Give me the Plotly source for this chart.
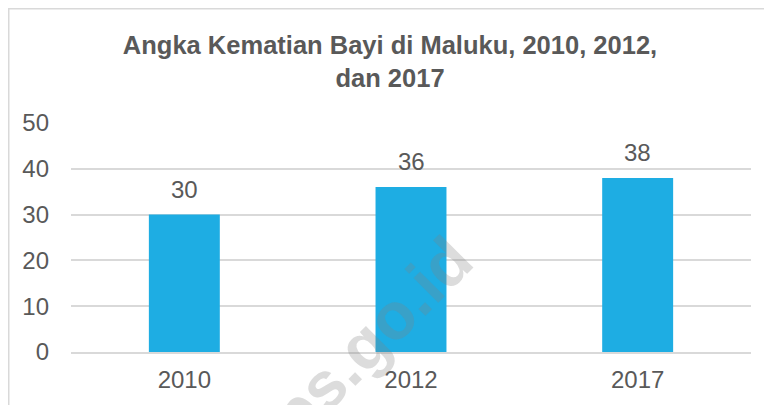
import plotly.graph_objects as go

# data
tahun = ["2010", "2012", "2017"]
akb = [30, 36, 38]
y_ticks = [0, 10, 20, 30, 40, 50]

grey_text = "#595959"
grid_col = "#d9d9d9"
bar_col = "#1eade3"
font_fam = "Liberation Sans, Arial"

# page body adds an 8px margin, so the figure is a bit smaller than the window
W, H = 764, 397
L, R, T, B = 63, 21, 115, 53
pw, ph = W - L - R, H - T - B

fig = go.Figure()
fig.add_trace(go.Bar(
    x=tahun,
    y=akb,
    width=0.313,
    marker=dict(color=bar_col, line=dict(width=0)),
    hoverinfo="x+y",
))

# data labels above bars (index positions on the category axis)
for i, v in enumerate(akb):
    fig.add_annotation(
        x=i, y=v, text=str(v), showarrow=False,
        yanchor="bottom", yshift=10,
        font=dict(family=font_fam, size=24, color=grey_text),
    )

# faint watermark
fig.add_annotation(
    text="<b>bps.go.id</b>", xref="paper", yref="paper",
    x=0.42, y=0.0, xanchor="center", yanchor="middle",
    showarrow=False, textangle=-45,
    font=dict(family=font_fam, size=66, color="rgba(128,128,128,0.28)"),
)

# chart area border (only left and top edges are visible)
fig.add_shape(type="rect", xref="paper", yref="paper",
              x0=(0.75 - L) / pw, y0=-0.5, x1=1.3, y1=(ph + T - 0.75) / ph,
              line=dict(color=grid_col, width=1.5), layer="below")

fig.update_layout(
    width=W, height=H,
    margin=dict(l=L, r=R, t=T, b=B),
    paper_bgcolor="white",
    plot_bgcolor="white",
    showlegend=False,
    title=dict(
        text="<b>Angka Kematian Bayi di Maluku, 2010, 2012,<br>dan 2017</b>",
        x=0.5, xanchor="center", xref="container",
        y=0.884, yanchor="top", yref="container",
        font=dict(family=font_fam, size=25.5, color=grey_text),
    ),
    font=dict(family=font_fam, color=grey_text),
)

fig.update_xaxes(
    type="category", range=[-0.5, 2.5], automargin=False,
    showgrid=False, showline=True, linecolor=grid_col, linewidth=1.5,
    tickfont=dict(size=24, color=grey_text),
    ticks="", ticklabelstandoff=5,
)
fig.update_yaxes(
    range=[0, 50], tickvals=y_ticks, automargin=False,
    showgrid=True, gridcolor=grid_col, gridwidth=1.5,
    zeroline=False, showline=False,
    tickfont=dict(size=24, color=grey_text),
    ticks="", ticklabelstandoff=21,
)

fig.write_html("out.html")
